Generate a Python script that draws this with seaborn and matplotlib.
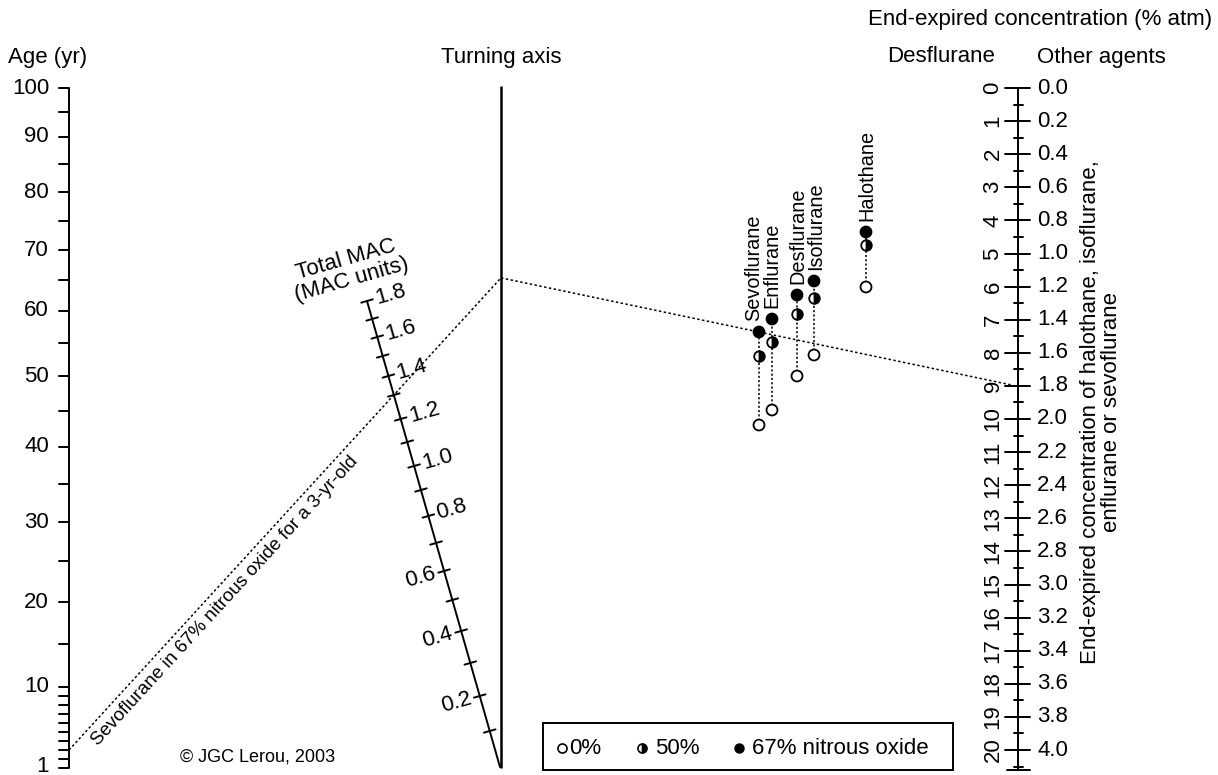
import numpy as np
import pandas as pd
import matplotlib
matplotlib.use("Agg")
import matplotlib.pyplot as plt
from matplotlib.patches import Rectangle
import seaborn as sns

# ---------------- data ----------------
# Age scale (yr): tick values and labelled ticks
age_ticks = [1, 2, 3, 4, 5, 6, 7, 8, 9, 10, 15, 20, 25, 30, 35, 40, 45, 50,
             55, 60, 65, 70, 75, 80, 85, 90, 95, 100]
age_labels = [1, 10, 20, 30, 40, 50, 60, 70, 80, 90, 100]

# Total MAC scale (MAC units)
mac_ticks = [0.0, 0.1, 0.2, 0.3, 0.4, 0.5, 0.6, 0.7, 0.8, 0.9, 1.0, 1.1, 1.2,
             1.3, 1.4, 1.5, 1.6, 1.7, 1.8]
mac_labels_right = [0.8, 1.0, 1.2, 1.4, 1.6, 1.8]
mac_labels_left = [0.2, 0.4, 0.6]

# End-expired concentration scale (% atm)
other_labels = [0.0, 0.2, 0.4, 0.6, 0.8, 1.0, 1.2, 1.4, 1.6, 1.8, 2.0, 2.2,
                2.4, 2.6, 2.8, 3.0, 3.2, 3.4, 3.6, 3.8, 4.0]
desflurane_labels = list(range(0, 21))

# Agent pivot points (nomogram plane), per nitrous oxide fraction
agents = ["Sevoflurane", "Enflurane", "Desflurane", "Isoflurane", "Halothane"]
pivot_x = [759, 772, 797, 814, 866]
pivot_y_0 = [425, 410, 376, 355, 287]
pivot_y_50 = [356, 342, 314, 298, 245]
pivot_y_67 = [332, 319, 295, 281, 232]

# Worked example
example_age = 3
example_mac = 1.3
example_agent = "Sevoflurane"

# ---------------- nomogram geometry (pixel plane) ----------------
AGE_X = 69
age_tick_y = [768, 759, 750, 741, 732, 723, 714, 705, 696, 687, 644, 602, 561,
              522, 484, 447, 411, 376, 343, 311, 280, 250, 221, 192, 164, 137,
              112, 88]
TURN_X = 501
TURN_TOP, TURN_BOT = 86, 768
MAC_BOT = (500, 767)
MAC_TOP = (367, 301)
mac_tick_y = [767, 731, 696, 663, 631, 600, 571, 543, 516, 490, 466, 442, 419,
              395, 376, 356, 337, 319, 301]
CONC_X = 1018
CONC_Y0, CONC_PX = 88, 165.5
label_dx = [-5, 0, 1, 2, 1]  # horizontal nudge of agent labels


def age_pos(a):
    return AGE_X, float(np.interp(a, age_ticks, age_tick_y))


def mac_pos(m):
    y = float(np.interp(m, mac_ticks, mac_tick_y))
    x = MAC_BOT[0] - (MAC_BOT[0] - MAC_TOP[0]) * (MAC_BOT[1] - y) / (MAC_BOT[1] - MAC_TOP[1])
    return x, y


def conc_pos(c):
    return CONC_X, CONC_Y0 + CONC_PX * c


# ---------------- figure ----------------
sns.set_theme(style="white")
plt.rcParams["font.family"] = ["Liberation Sans", "DejaVu Sans"]
plt.rcParams["text.color"] = "black"
FS = 16

fig = plt.figure(figsize=(12.18, 7.75), dpi=100)
ax = fig.add_axes([0, 0, 1, 1])
ax.set_xlim(0, 1218)
ax.set_ylim(775, 0)
ax.axis("off")

K = "black"
LW = 1.4

# Age axis
ax.plot([AGE_X, AGE_X], [age_pos(100)[1], age_pos(1)[1]], color=K, lw=LW, solid_capstyle="butt")
for a in age_ticks:
    _, y = age_pos(a)
    ax.plot([AGE_X - 10, AGE_X], [y, y], color=K, lw=LW)
for a in age_labels:
    _, y = age_pos(a)
    ax.text(49, min(y, 766), str(a), ha="right", va="center", fontsize=FS, color=K)
ax.text(8, 57, "Age (yr)", ha="left", va="center", fontsize=FS, color=K)

# Turning axis
ax.plot([TURN_X, TURN_X], [TURN_TOP, TURN_BOT], color=K, lw=1.8, solid_capstyle="butt")
ax.text(TURN_X, 57, "Turning axis", ha="center", va="center", fontsize=FS, color=K)

# Total MAC axis
ax.plot([MAC_BOT[0], MAC_TOP[0]], [MAC_BOT[1], MAC_TOP[1]], color=K, lw=LW)
d = np.array([MAC_TOP[0] - MAC_BOT[0], MAC_TOP[1] - MAC_BOT[1]], float)
d /= np.hypot(*d)
perp = np.array([-d[1], d[0]])  # points right / up on screen
if perp[0] < 0:
    perp = -perp
tilt = np.degrees(np.arctan2(-perp[1], perp[0]))
for m in mac_ticks[1:]:
    x, y = mac_pos(m)
    ax.plot([x - 6 * perp[0], x + 6 * perp[0]], [y - 6 * perp[1], y + 6 * perp[1]], color=K, lw=LW)
for m in mac_labels_right:
    x, y = mac_pos(m)
    ax.text(x + 9 * perp[0], y + 9 * perp[1], f"{m:.1f}", rotation=tilt,
            rotation_mode="anchor", ha="left", va="center", fontsize=FS, color=K)
for m in mac_labels_left:
    x, y = mac_pos(m)
    ax.text(x - 9 * perp[0], y - 9 * perp[1], f"{m:.1f}", rotation=tilt,
            rotation_mode="anchor", ha="right", va="center", fontsize=FS, color=K)
ax.text(349, 270, "Total MAC\n(MAC units)", rotation=tilt, rotation_mode="anchor",
        ha="center", va="center", multialignment="center", fontsize=FS, linespacing=1.0, color=K)

# Concentration axis
ax.plot([CONC_X, CONC_X], [conc_pos(0)[1], conc_pos(4.12)[1]], color=K, lw=LW, solid_capstyle="butt")
for i in range(0, 42):
    c = i / 10
    _, y = conc_pos(c)
    if i % 2 == 0:
        ax.plot([CONC_X - 13, CONC_X + 12], [y, y], color=K, lw=LW)
    else:
        ax.plot([CONC_X - 4.5, CONC_X + 4.5], [y, y], color=K, lw=LW)
_, yb = conc_pos(4.12)
ax.plot([CONC_X - 11, CONC_X + 12], [yb, yb], color=K, lw=LW)
for c in other_labels:
    _, y = conc_pos(c)
    ax.text(1037, y, f"{c:.1f}", ha="left", va="center", fontsize=FS, color=K)
for dv in desflurane_labels:
    _, y = conc_pos(dv / 5)
    ax.text(993, y, str(dv), ha="center", va="center", rotation=90, fontsize=FS, color=K)
ax.text(1212, 20, "End-expired concentration (% atm)", ha="right", va="center", fontsize=FS, color=K)
ax.text(941, 57, "Desflurane", ha="center", va="center", fontsize=FS, color=K)
ax.text(1037, 57, "Other agents", ha="left", va="center", fontsize=FS, color=K)
ax.text(1101, 412, "End-expired concentration of halothane, isoflurane,\nenflurane or sevoflurane",
        rotation=90, ha="center", va="center", multialignment="center", fontsize=FS,
        linespacing=1.0, color=K)

# Agent pivot columns
for x, y0, y67 in zip(pivot_x, pivot_y_0, pivot_y_67):
    ax.plot([x, x], [y0, y67], color=K, lw=1.1, linestyle=(0, (1.4, 1.4)))

pts = pd.DataFrame({
    "x": pivot_x * 2,
    "y": pivot_y_0 + pivot_y_67,
    "n2o": ["0%"] * len(agents) + ["67%"] * len(agents),
})
sns.scatterplot(data=pts, x="x", y="y", hue="n2o", palette={"0%": "white", "67%": "black"},
                s=62, edgecolor=K, linewidth=1.3, legend=False, ax=ax, zorder=5)
ax.plot(pivot_x, pivot_y_50, linestyle="none", marker="o", markersize=7.6, fillstyle="right",
        markerfacecolor=K, markerfacecoloralt="white", markeredgecolor=K, markeredgewidth=1.3, zorder=5)
for name, x, y, dx in zip(agents, pivot_x, pivot_y_67, label_dx):
    ax.text(x + dx, y - 11, name, rotation=90, ha="center", va="bottom", fontsize=14.3, color=K)

# Worked example (dotted isopleth)
ax0, ay0 = age_pos(example_age)
mx, my = mac_pos(example_mac)
slope = (my - ay0) / (mx - ax0)
ty = ay0 + slope * (TURN_X - ax0)
ax.plot([ax0, TURN_X], [ay0, ty], color=K, lw=1.1, linestyle=(0, (1.6, 1.6)))
i_ag = agents.index(example_agent)
px, py = pivot_x[i_ag], pivot_y_67[i_ag]
slope2 = (py - ty) / (px - TURN_X)
ex = CONC_X - 6
ax.plot([TURN_X, ex], [ty, ty + slope2 * (ex - TURN_X)], color=K, lw=1.1, linestyle=(0, (1.6, 1.6)))

u = np.array([TURN_X - ax0, ty - ay0], float)
L = np.hypot(*u)
u /= L
n = np.array([-u[1], u[0]])
if n[1] < 0:
    n = -n
cpt = np.array([ax0, ay0]) + u * 0.336 * L + n * 14
ang = np.degrees(np.arctan2(-u[1], u[0]))
ax.text(cpt[0], cpt[1], "Sevoflurane in 67% nitrous oxide for a 3-yr-old", rotation=ang,
        rotation_mode="anchor", ha="center", va="center", fontsize=13.5, color=K)

ax.text(180, 757, "\u00a9 JGC Lerou, 2003", ha="left", va="center", fontsize=13, color=K)

# Legend box
ax.add_patch(Rectangle((543, 723), 410, 47, fill=False, edgecolor=K, lw=LW, zorder=4))
ly = 748
ax.plot([562], [ly], marker="o", markersize=6.5, markerfacecolor="white", markeredgecolor=K,
        markeredgewidth=1.2, linestyle="none")
ax.text(569, ly, "0%", ha="left", va="center", fontsize=FS, color=K)
ax.plot([642], [ly], marker="o", markersize=6.5, fillstyle="right", markerfacecolor=K,
        markerfacecoloralt="white", markeredgecolor=K, markeredgewidth=1.2, linestyle="none")
ax.text(655, ly, "50%", ha="left", va="center", fontsize=FS, color=K)
ax.plot([739], [ly], marker="o", markersize=6.5, markerfacecolor=K, markeredgecolor=K,
        linestyle="none")
ax.text(752, ly, "67% nitrous oxide", ha="left", va="center", fontsize=FS, color=K)

fig.savefig("out.png", dpi=100)
